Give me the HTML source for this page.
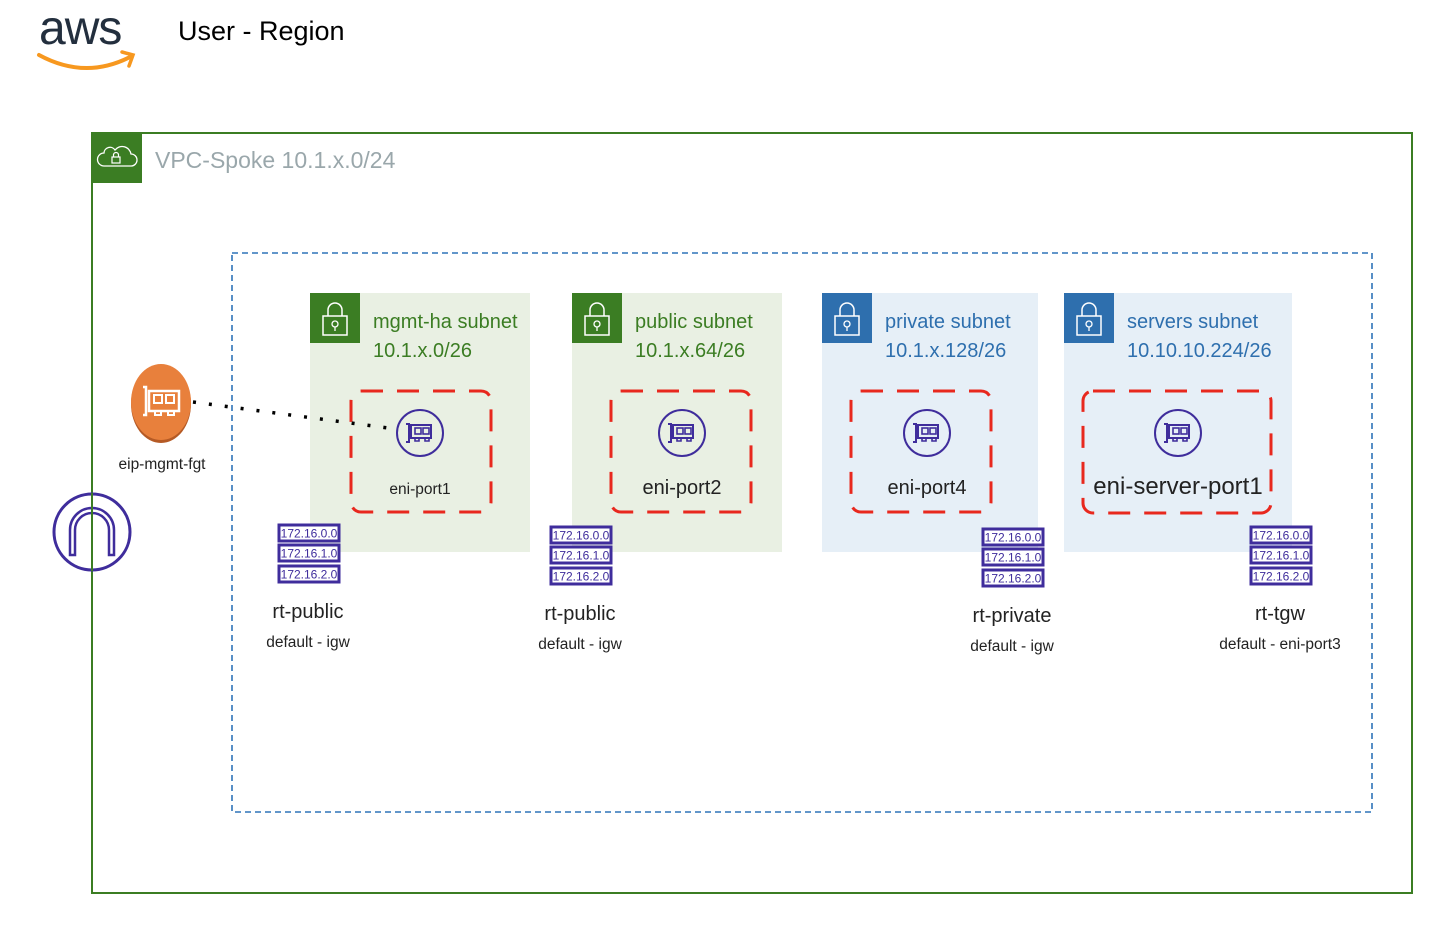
<!DOCTYPE html>
<html><head><meta charset="utf-8"><style>
body{margin:0;background:#fff;}
svg{display:block;font-family:"Liberation Sans",Arial,sans-serif;}
</style></head><body>
<svg width="1438" height="934" viewBox="0 0 1438 934" xmlns="http://www.w3.org/2000/svg">
<defs>
<g id="eni">
<circle cx="0" cy="0" r="23" fill="none" stroke="#3f2d9c" stroke-width="2"/>
<path d="M-14,-9 h3 v18 h-3" fill="none" stroke="#3f2d9c" stroke-width="2"/>
<rect x="-9" y="-8" width="20" height="13" fill="none" stroke="#3f2d9c" stroke-width="2"/>
<rect x="-5" y="-5" width="6" height="6" fill="none" stroke="#3f2d9c" stroke-width="1.6"/>
<rect x="3" y="-5" width="6" height="6" fill="none" stroke="#3f2d9c" stroke-width="1.6"/>
<path d="M-5,5 v3 h4 v-3 M5,5 v3 h4 v-3" fill="none" stroke="#3f2d9c" stroke-width="1.6"/>
</g>
<g id="rt">
<rect x="0" y="0" width="60" height="16" fill="#fff" stroke="#3f2d9c" stroke-width="3"/>
<text x="30" y="12.5" font-size="12" text-anchor="middle" fill="#3f2d9c">172.16.0.0</text>
<rect x="0" y="20" width="60" height="16" fill="#fff" stroke="#3f2d9c" stroke-width="3"/>
<text x="30" y="32.5" font-size="12" text-anchor="middle" fill="#3f2d9c">172.16.1.0</text>
<rect x="0" y="41" width="60" height="16" fill="#fff" stroke="#3f2d9c" stroke-width="3"/>
<text x="30" y="53.5" font-size="12" text-anchor="middle" fill="#3f2d9c">172.16.2.0</text>
</g>
<g id="lock">
<path d="M-7,-4 v-6 a7,7 0 0 1 14,0 v6" fill="none" stroke="#fff" stroke-width="1.5"/>
<rect x="-12" y="-4" width="24" height="19" fill="none" stroke="#fff" stroke-width="1.5"/>
<circle cx="0" cy="4" r="3" fill="none" stroke="#fff" stroke-width="1.3"/>
<line x1="0" y1="7" x2="0" y2="11" stroke="#fff" stroke-width="1.3"/>
</g>
</defs>

<!-- AWS logo -->
<text x="39" y="44" font-size="48" fill="#232f3e" letter-spacing="-1">aws</text>
<path d="M39,55 Q85,80 130,57" fill="none" stroke="#f7981f" stroke-width="4" stroke-linecap="round"/>
<path d="M122,52 L133,55 L129,66" fill="none" stroke="#f7981f" stroke-width="3.5" stroke-linecap="round"/>
<text x="178" y="40" font-size="27" fill="#000">User - Region</text>

<!-- VPC -->
<rect x="92" y="133" width="1320" height="760" fill="none" stroke="#3b7d23" stroke-width="2"/>
<rect x="92" y="133" width="50" height="50" fill="#3b7d23"/>
<path d="M104,166 h27 a6,6 0 0 0 0,-12 a9,9 0 0 0 -16,-4 a6,6 0 0 0 -11,3 a6.5,6.5 0 0 0 0,13z" fill="none" stroke="#fff" stroke-width="1.3"/>
<rect x="112" y="157" width="8" height="6" fill="none" stroke="#fff" stroke-width="1.2"/>
<path d="M113.5,157 v-2 a2.5,2.5 0 0 1 5,0 v2" fill="none" stroke="#fff" stroke-width="1.2"/>
<text x="155" y="168" font-size="23" fill="#9aa7ab">VPC-Spoke 10.1.x.0/24</text>

<!-- dashed AZ -->
<rect x="232" y="253" width="1140" height="559" fill="none" stroke="#2e73b8" stroke-width="1.6" stroke-dasharray="6,4"/>

<!-- subnets -->
<rect x="310" y="293" width="220" height="259" fill="#e9f0e3"/>
<rect x="310" y="293" width="50" height="50" fill="#3b7d23"/>
<use href="#lock" x="335" y="320"/>
<text x="373" y="328" font-size="20" fill="#3b7d23">mgmt-ha subnet</text>
<text x="373" y="357" font-size="20" fill="#3b7d23">10.1.x.0/26</text>

<rect x="572" y="293" width="210" height="259" fill="#e9f0e3"/>
<rect x="572" y="293" width="50" height="50" fill="#3b7d23"/>
<use href="#lock" x="597" y="320"/>
<text x="635" y="328" font-size="20" fill="#3b7d23">public subnet</text>
<text x="635" y="357" font-size="20" fill="#3b7d23">10.1.x.64/26</text>

<rect x="822" y="293" width="216" height="259" fill="#e6eff7"/>
<rect x="822" y="293" width="50" height="50" fill="#2e6fae"/>
<use href="#lock" x="847" y="320"/>
<text x="885" y="328" font-size="20" fill="#2e6fae">private subnet</text>
<text x="885" y="357" font-size="20" fill="#2e6fae">10.1.x.128/26</text>

<rect x="1064" y="293" width="228" height="259" fill="#e6eff7"/>
<rect x="1064" y="293" width="50" height="50" fill="#2e6fae"/>
<use href="#lock" x="1089" y="320"/>
<text x="1127" y="328" font-size="20" fill="#2e6fae">servers subnet</text>
<text x="1127" y="357" font-size="20" fill="#2e6fae">10.10.10.224/26</text>

<!-- red dashed boxes -->
<g fill="none" stroke="#e8281e" stroke-width="3" stroke-dasharray="22,14">
<rect x="351" y="391" width="140" height="121" rx="10"/>
<rect x="611" y="391" width="140" height="121" rx="10"/>
<rect x="851" y="391" width="140" height="121" rx="10"/>
<rect x="1083" y="391" width="188" height="122" rx="10"/>
</g>
<use href="#eni" x="420" y="433"/>
<use href="#eni" x="682" y="433"/>
<use href="#eni" x="927" y="433"/>
<use href="#eni" x="1178" y="433"/>
<text x="420" y="494" font-size="15.5" text-anchor="middle" fill="#222">eni-port1</text>
<text x="682" y="494" font-size="20" text-anchor="middle" fill="#222">eni-port2</text>
<text x="927" y="494" font-size="20" text-anchor="middle" fill="#222">eni-port4</text>
<text x="1178" y="494" font-size="24" text-anchor="middle" fill="#222">eni-server-port1</text>

<!-- route tables -->
<use href="#rt" x="279" y="525"/>
<text x="308" y="618" font-size="20" text-anchor="middle" fill="#222">rt-public</text>
<text x="308" y="647" font-size="15.5" text-anchor="middle" fill="#222">default - igw</text>
<use href="#rt" x="551" y="527"/>
<text x="580" y="620" font-size="20" text-anchor="middle" fill="#222">rt-public</text>
<text x="580" y="649" font-size="15.5" text-anchor="middle" fill="#222">default - igw</text>
<use href="#rt" x="983" y="529"/>
<text x="1012" y="622" font-size="20" text-anchor="middle" fill="#222">rt-private</text>
<text x="1012" y="651" font-size="15.5" text-anchor="middle" fill="#222">default - igw</text>
<use href="#rt" x="1251" y="527"/>
<text x="1280" y="620" font-size="20" text-anchor="middle" fill="#222">rt-tgw</text>
<text x="1280" y="649" font-size="15.5" text-anchor="middle" fill="#222">default - eni-port3</text>

<!-- dotted connector -->
<line x1="193" y1="402" x2="388" y2="428" stroke="#000" stroke-width="3.5" stroke-dasharray="3,13"/>

<!-- EIP -->
<ellipse cx="161" cy="404" rx="30" ry="39" fill="#b55a25"/>
<ellipse cx="161" cy="402" rx="30" ry="38" fill="#e8803c"/>
<path d="M143,387 h3 v28 h-3" fill="none" stroke="#fff" stroke-width="2.5"/>
<rect x="149" y="391" width="30" height="20" fill="none" stroke="#fff" stroke-width="2.5"/>
<rect x="154" y="395" width="8" height="8" fill="none" stroke="#fff" stroke-width="2"/>
<rect x="166" y="395" width="8" height="8" fill="none" stroke="#fff" stroke-width="2"/>
<path d="M155,411 v4 h6 v-4 M168,411 v4 h6 v-4" fill="none" stroke="#fff" stroke-width="2"/>
<text x="162" y="469" font-size="15.5" text-anchor="middle" fill="#222">eip-mgmt-fgt</text>

<!-- IGW -->
<circle cx="92" cy="532" r="38" fill="#fff" stroke="#3f2d9c" stroke-width="3"/>
<path d="M70,555 v-25 a22,22 0 0 1 44,0 v25 h-5 v-25 a17,17 0 0 0 -34,0 v25z" fill="none" stroke="#3f2d9c" stroke-width="2.5"/>
<line x1="92" y1="493" x2="92" y2="571" stroke="#3b7d23" stroke-width="2"/>
</svg>
</body></html>
